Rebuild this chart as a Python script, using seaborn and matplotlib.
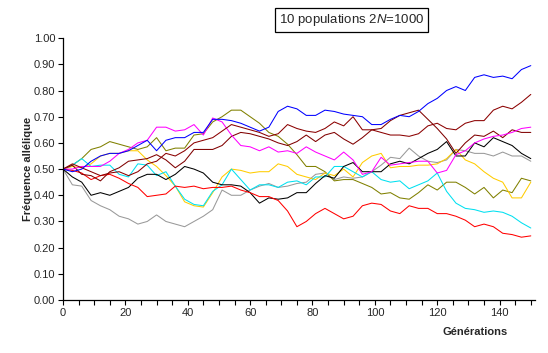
import numpy as np
import pandas as pd
import matplotlib
matplotlib.use("Agg")
import matplotlib.pyplot as plt
import seaborn as sns
from matplotlib.ticker import MultipleLocator, FormatStrFormatter

# generations read every 3 steps from the reference
gens = list(range(0, 151, 3))

blue = [0.50, 0.49, 0.50, 0.53, 0.55, 0.56, 0.56, 0.57, 0.59,
        0.61, 0.57, 0.61, 0.62, 0.62, 0.64, 0.64, 0.69, 0.69,
        0.685, 0.675, 0.66, 0.645, 0.66, 0.72, 0.74, 0.73,
        0.705, 0.705, 0.725, 0.72, 0.71, 0.705, 0.70, 0.67, 0.67,
        0.69, 0.705, 0.70, 0.72, 0.75, 0.77, 0.80, 0.815,
        0.80, 0.85, 0.86, 0.85, 0.855, 0.845, 0.88, 0.895]
gray = [0.50, 0.44, 0.435, 0.38, 0.36, 0.345, 0.32, 0.31, 0.29,
        0.30, 0.325, 0.30, 0.29, 0.28, 0.30, 0.32, 0.345, 0.42,
        0.40, 0.40, 0.42, 0.435, 0.445, 0.43, 0.435, 0.445,
        0.45, 0.48, 0.485, 0.46, 0.47, 0.465, 0.47, 0.49, 0.515,
        0.545, 0.54, 0.58, 0.55, 0.53, 0.525, 0.535, 0.575,
        0.57, 0.56, 0.56, 0.55, 0.565, 0.55, 0.55, 0.53]
black = [0.50, 0.47, 0.45, 0.40, 0.41, 0.40, 0.415, 0.43, 0.465,
         0.48, 0.48, 0.46, 0.48, 0.51, 0.50, 0.485, 0.45, 0.44,
         0.44, 0.435, 0.41, 0.37, 0.39, 0.385, 0.39, 0.41,
         0.41, 0.445, 0.475, 0.465, 0.51, 0.525, 0.49, 0.49, 0.49,
         0.52, 0.53, 0.52, 0.54, 0.56, 0.575, 0.605, 0.55,
         0.55, 0.60, 0.585, 0.62, 0.605, 0.59, 0.56, 0.54]
red = [0.50, 0.495, 0.485, 0.46, 0.475, 0.48, 0.465, 0.445, 0.43,
       0.395, 0.40, 0.405, 0.435, 0.43, 0.435, 0.425, 0.43, 0.43,
       0.435, 0.42, 0.41, 0.395, 0.395, 0.38, 0.34, 0.28,
       0.30, 0.33, 0.35, 0.33, 0.31, 0.32, 0.36, 0.37, 0.365,
       0.34, 0.33, 0.36, 0.35, 0.35, 0.33, 0.33, 0.32,
       0.305, 0.28, 0.29, 0.28, 0.255, 0.25, 0.24, 0.245]
cyan = [0.50, 0.515, 0.54, 0.51, 0.515, 0.515, 0.48, 0.47, 0.52,
        0.515, 0.475, 0.49, 0.435, 0.385, 0.365, 0.36, 0.415, 0.44,
        0.50, 0.46, 0.42, 0.44, 0.44, 0.43, 0.45, 0.455,
        0.44, 0.47, 0.47, 0.51, 0.51, 0.49, 0.47, 0.49, 0.46,
        0.45, 0.455, 0.425, 0.44, 0.455, 0.485, 0.415, 0.37,
        0.35, 0.345, 0.335, 0.34, 0.335, 0.32, 0.295, 0.275]
yellow = [0.50, 0.51, 0.505, 0.52, 0.55, 0.56, 0.56, 0.57, 0.57,
          0.535, 0.51, 0.475, 0.435, 0.375, 0.36, 0.355, 0.41, 0.47,
          0.50, 0.495, 0.485, 0.49, 0.49, 0.52, 0.51, 0.48,
          0.47, 0.46, 0.485, 0.475, 0.50, 0.47, 0.525, 0.55, 0.56,
          0.505, 0.51, 0.51, 0.515, 0.515, 0.52, 0.54, 0.575,
          0.535, 0.52, 0.49, 0.465, 0.45, 0.39, 0.39, 0.45]
olive = [0.50, 0.515, 0.54, 0.575, 0.585, 0.605, 0.595, 0.585, 0.575,
         0.585, 0.62, 0.57, 0.58, 0.58, 0.63, 0.635, 0.68, 0.70,
         0.725, 0.725, 0.70, 0.675, 0.64, 0.625, 0.595, 0.555,
         0.51, 0.51, 0.49, 0.455, 0.46, 0.46, 0.445, 0.43, 0.405,
         0.41, 0.39, 0.385, 0.41, 0.44, 0.42, 0.45, 0.45,
         0.43, 0.405, 0.43, 0.39, 0.42, 0.41, 0.465, 0.455]
magenta = [0.50, 0.50, 0.51, 0.51, 0.51, 0.53, 0.56, 0.575, 0.60,
           0.61, 0.66, 0.66, 0.645, 0.65, 0.67, 0.63, 0.695, 0.68,
           0.63, 0.59, 0.585, 0.57, 0.585, 0.565, 0.57, 0.56,
           0.585, 0.565, 0.55, 0.535, 0.565, 0.535, 0.48, 0.49, 0.545,
           0.515, 0.52, 0.525, 0.53, 0.53, 0.485, 0.495, 0.555,
           0.57, 0.60, 0.615, 0.625, 0.63, 0.64, 0.655, 0.66]
maroon_a = [0.50, 0.52, 0.505, 0.49, 0.475, 0.485, 0.49, 0.475, 0.49,
            0.52, 0.53, 0.56, 0.55, 0.57, 0.60, 0.61, 0.62, 0.645,
            0.67, 0.66, 0.65, 0.64, 0.625, 0.635, 0.67, 0.655,
            0.645, 0.64, 0.655, 0.68, 0.665, 0.70, 0.65, 0.65, 0.64,
            0.63, 0.63, 0.625, 0.635, 0.665, 0.675, 0.655, 0.65,
            0.675, 0.685, 0.685, 0.725, 0.74, 0.73, 0.755, 0.785]
maroon_b = [0.50, 0.515, 0.48, 0.475, 0.455, 0.49, 0.505, 0.53, 0.535,
            0.54, 0.555, 0.535, 0.505, 0.53, 0.575, 0.575, 0.575, 0.59,
            0.625, 0.64, 0.635, 0.625, 0.615, 0.60, 0.59, 0.605,
            0.63, 0.605, 0.63, 0.64, 0.615, 0.595, 0.62, 0.65, 0.655,
            0.685, 0.705, 0.715, 0.725, 0.69, 0.655, 0.615, 0.56,
            0.60, 0.63, 0.625, 0.645, 0.62, 0.65, 0.64, 0.64]

series = {"gray": gray, "olive": olive, "yellow": yellow, "cyan": cyan,
          "black": black, "red": red, "maroon_b": maroon_b,
          "magenta": magenta, "maroon_a": maroon_a, "blue": blue}
colors = {"gray": "#999999", "olive": "#808000", "yellow": "#FFCC00",
          "cyan": "#00E0F0", "black": "#000000", "red": "#FF0000",
          "maroon_b": "#800000", "magenta": "#FF00FF",
          "maroon_a": "#8B0000", "blue": "#0000FF"}

rows = []
for name, vals in series.items():
    for g, v in zip(gens, vals):
        rows.append((name, g, v))
df = pd.DataFrame(rows, columns=["pop", "gen", "freq"])

sns.set_style("white")
plt.rcParams["font.family"] = ["Liberation Sans", "DejaVu Sans"]
plt.rcParams["mathtext.fontset"] = "custom"
plt.rcParams["mathtext.it"] = "Liberation Sans:italic"
plt.rcParams["mathtext.rm"] = "Liberation Sans"

fig = plt.figure(figsize=(5.48, 3.53), dpi=100)
ax = fig.add_axes([0.115, 0.150, 0.861, 0.742])

sns.lineplot(data=df, x="gen", y="freq", hue="pop", palette=colors,
             hue_order=list(series.keys()), linewidth=0.75, legend=False, ax=ax)

ax.set_xlim(0, 151.3)
ax.set_ylim(0, 1)
ax.xaxis.set_major_locator(MultipleLocator(20))
ax.xaxis.set_minor_locator(MultipleLocator(5))
ax.yaxis.set_major_locator(MultipleLocator(0.1))
ax.yaxis.set_major_formatter(FormatStrFormatter("%.2f"))
ax.tick_params(axis="both", which="both", direction="out", length=3.5,
               width=0.8, color="black", labelsize=8, pad=2)
ax.tick_params(axis="x", which="minor", length=3.5, width=0.8, bottom=True)
ax.tick_params(axis="x", bottom=True)
ax.tick_params(axis="y", left=True)

for s in ["top", "right"]:
    ax.spines[s].set_visible(False)
for s in ["left", "bottom"]:
    ax.spines[s].set_color("black")
    ax.spines[s].set_linewidth(0.9)

ax.set_xlabel("Générations", fontsize=8, fontweight="bold")
ax.set_ylabel("Fréquence allélique", fontsize=8, fontweight="bold")
ax.xaxis.set_label_coords(0.873, -0.103)
ax.yaxis.set_label_coords(-0.064, 0.5)

fig.text(0.641, 0.943, "10 populations 2$\\it{N}$=1000", fontsize=9.5,
         ha="center", va="center",
         bbox=dict(boxstyle="square,pad=0.3", fc="white", ec="black", lw=0.9))

fig.savefig("out.png", dpi=100)
